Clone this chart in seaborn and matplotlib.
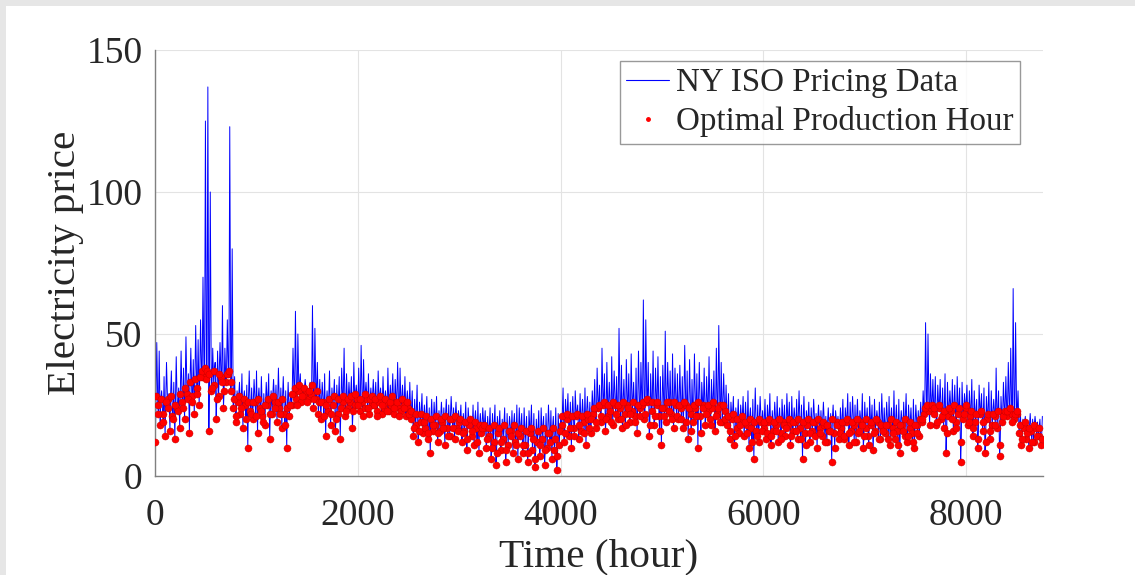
#%% import libraries
import numpy as np
import pandas as pd
import matplotlib
matplotlib.use('Agg')
import matplotlib.pyplot as plt
import seaborn as sns
from matplotlib.lines import Line2D
from matplotlib.patches import Rectangle

#%% data (one value per day of the year)
# daily peak price -> blue spikes
day_high = [
    47, 44, 30, 35, 40, 29, 37, 33, 42, 31,
    44, 38, 49, 36, 45, 41, 53, 48, 55,
    70, 125, 137, 100, 45, 40, 44, 47, 60, 45, 55,
    123, 80, 35, 30, 33, 36, 30, 32, 37, 31,
    34, 37, 31, 35, 29, 33, 36, 30, 34, 32,
    38, 31, 35, 30, 33, 29,
    45, 58, 50, 36,
    31, 34, 30, 33,
    60, 52, 40, 34,
    33, 36, 30, 37, 31, 34, 32, 35, 38, 45, 36, 33,
    35, 40, 32, 38, 46, 41, 33, 36, 31, 34,
    33, 37, 31, 35, 30, 38, 32, 36, 34, 40,
    38, 32, 35, 30, 33,
    30, 27, 32, 26, 29, 25, 28, 24, 27, 26,
    28, 23, 26, 24, 27, 25, 28, 24, 26, 23,
    25, 22, 26, 24, 21, 25, 23, 26, 22, 24,
    23, 21, 24, 22, 25, 21, 23, 20, 24, 22, 21, 23, 22, 25, 24,
    22, 24, 21, 23, 25, 22, 20, 23, 24, 21, 22, 25, 23, 21, 24, 22, 20,
    31, 27, 29, 26, 28, 30, 25, 29, 27, 31, 28, 26, 30,
    34, 38, 32, 45, 36, 40, 33, 42, 37, 35,
    52, 39, 34, 41, 36, 43, 33, 38, 44, 40,
    62, 55, 40, 36, 44, 38, 42, 35, 39, 51,
    40, 37, 43, 38, 36,
    39, 35, 46, 37, 41, 34, 43, 36, 40, 33,
    38, 35, 42, 34, 37, 45, 53, 40, 36, 32,
    29, 26, 28, 24, 27, 25, 28,
    26, 30, 24, 27, 31, 25, 28, 23,
    27, 25, 29, 23, 26, 28, 24, 27, 25, 29,
    26, 28, 24, 27, 30, 25, 28, 23, 26, 24,
    27, 22, 25, 23, 26, 21, 24, 22, 25, 23, 21, 24,
    27, 24, 29, 26, 28, 25, 27, 23,
    29, 26, 24, 28, 25, 27, 23, 26, 29, 24,
    26, 28, 24, 30, 25, 27, 23, 26, 29, 25, 24, 27, 25, 23, 26,
    30, 54, 50, 36, 34,
    35, 32, 34, 31, 36, 33, 30, 34, 32, 35, 31, 33, 29, 32, 30,
    34, 30, 27, 32, 29, 31, 28, 33, 30, 27,
    38, 30, 28, 33, 35,
    40, 45, 66, 54, 30,
    22, 20, 21, 19, 22, 20, 21, 19, 20, 21,
]

# first cheap hour of each day (red dots)
cheap_1 = [
    12, 25, 18, 22, 14, 27, 16, 21, 13, 24,
    17, 26, 20, 29, 15, 28, 22, 31, 25,
    35, 36, 34, 16, 30, 32, 20, 28, 35, 24, 33,
    36, 30, 24, 19, 26, 22, 17, 25, 10, 23,
    20, 26, 15, 24, 21, 18, 25, 13, 22, 26,
    19, 24, 17, 22, 10, 21,
    25, 29, 27, 30, 26, 28, 30, 27, 29, 24, 27, 22,
    20, 26, 14, 23, 18, 25, 16, 22, 13, 26, 21, 24,
    26, 17, 25, 27, 23, 26, 24, 27, 22, 25,
    25, 23, 26, 22, 24, 26, 23, 25, 22, 26, 24, 23, 25, 21, 24,
    20, 14, 18, 12, 19, 15, 17, 13, 8, 16,
    18, 12, 16, 19, 11, 17, 14, 20, 13, 17,
    19, 12, 16, 9, 18, 14, 11, 17, 8, 15,
    17, 10, 14, 6, 12, 4, 15, 9, 13, 5, 11, 16, 8, 12, 6,
    14, 8, 11, 5, 15, 9, 3, 12, 7, 13, 4, 10, 15, 6, 9, 2, 11,
    18, 12, 20, 14, 10, 17, 21, 13, 16, 19, 11, 20, 15,
    22, 17, 24, 19, 25, 16, 21, 23, 18, 25, 20, 24, 17, 22, 25, 19, 23, 21, 15, 24,
    25, 20, 26, 14, 23, 18, 25, 21, 11, 24, 19, 26, 22, 17, 25,
    20, 24, 17, 25, 13, 22, 19, 24, 10, 21, 25, 18, 23, 20, 24, 16, 22, 25, 19, 23,
    18, 13, 20, 11, 17, 15, 19,
    14, 18, 10, 17, 6, 16, 12, 19,
    17, 13, 19, 11, 16, 18, 12, 15, 19, 14,
    18, 11, 16, 19, 13, 17, 6, 15, 18, 12,
    16, 19, 10, 17, 14, 18, 12, 16, 5, 15, 19, 13,
    17, 13, 19, 11, 16, 18, 12, 15, 19, 10, 17, 14, 18, 9, 16, 19, 13, 17,
    15, 18, 11, 17, 13, 16, 8, 18, 14, 12, 17, 15, 10, 18, 14,
    19, 22, 24, 23, 24,
    22, 18, 24, 20, 17, 8, 21, 23, 16, 19, 22, 5, 20, 24, 18,
    21, 14, 19, 10, 22, 16, 8, 20, 13, 18, 21, 17, 7, 19, 22,
    21, 23, 22, 20, 22,
    15, 11, 17, 13, 10, 16, 12, 17, 14, 11,
]

# second cheap hour of each day (red dots)
cheap_2 = [
    28, 22, 27, 19, 26, 24, 28, 20, 25, 23,
    29, 24, 31, 27, 33, 26, 34, 29, 35,
    37, 38, 37, 36, 31, 37, 27, 36, 33, 30, 36,
    37, 33, 27, 21, 28, 24, 27, 20, 26, 22,
    26, 21, 27, 23, 19, 25, 27, 22, 28, 24,
    26, 22, 27, 18, 24, 25,
    29, 31, 25, 32, 28, 31, 26, 30, 32, 27, 30, 26,
    26, 21, 25, 27, 22, 28, 20, 27, 24, 28, 23, 27,
    28, 23, 29, 25, 27, 21, 29, 24, 27, 28,
    27, 21, 28, 25, 27, 23, 26, 28, 24, 26, 21, 27, 24, 26, 22,
    23, 17, 22, 16, 22, 19, 21, 15, 20, 18,
    21, 15, 20, 17, 21, 14, 20, 17, 21, 16,
    20, 15, 19, 13, 20, 16, 19, 12, 18, 17,
    18, 13, 17, 10, 18, 8, 17, 12, 18, 9, 16, 14, 18, 11, 15,
    17, 11, 16, 8, 17, 13, 6, 16, 11, 17, 9, 15, 12, 17, 13, 7, 16,
    21, 15, 22, 17, 21, 14, 22, 18, 21, 15, 22, 17, 20,
    24, 19, 25, 21, 26, 20, 25, 19, 26, 22, 25, 20, 26, 18, 24, 22, 26, 19, 25, 21,
    26, 22, 27, 18, 26, 21, 26, 16, 24, 21, 26, 23, 20, 26, 21,
    25, 20, 26, 19, 24, 16, 25, 21, 26, 15, 24, 22, 25, 18, 26, 21, 24, 19, 25, 20,
    21, 16, 22, 14, 20, 18, 21,
    19, 15, 20, 12, 19, 14, 20, 16,
    19, 15, 20, 14, 19, 16, 20, 13, 18, 17,
    20, 14, 19, 16, 20, 13, 19, 11, 20, 15,
    19, 14, 20, 15, 19, 12, 18, 16, 20, 10, 18, 15,
    19, 14, 20, 15, 19, 12, 20, 16, 18, 14, 20, 11, 19, 15, 20, 13, 18, 16,
    18, 13, 20, 15, 19, 11, 18, 16, 20, 14, 19, 12, 18, 15, 20,
    20, 24, 25, 18, 25,
    24, 19, 25, 21, 23, 15, 24, 20, 25, 17, 24, 12, 22, 25, 19,
    23, 17, 22, 13, 23, 19, 12, 22, 16, 22, 18, 23, 11, 21, 23,
    23, 24, 19, 22, 23,
    18, 13, 19, 15, 17, 12, 18, 14, 17, 13,
]
assert len(day_high) == len(cheap_1) == len(cheap_2) == 365

x_ticks = [0, 2000, 4000, 6000, 8000]
y_ticks = [0, 50, 100, 150]
line_label = 'NY ISO Pricing Data'
dot_label = 'Optimal Production Hour'

#%% build tables
days = np.arange(len(day_high))
hour_1 = days * 24 + 3
hour_2 = days * 24 + 9
hour_peak = days * 24 + 17

price_df = pd.DataFrame({
    'hour': np.concatenate([hour_1, hour_2, hour_peak]),
    'price': np.concatenate([cheap_1, cheap_2, day_high]),
}).sort_values('hour')
opt_df = pd.DataFrame({
    'hour': np.concatenate([hour_1, hour_2]),
    'price': np.concatenate([cheap_1, cheap_2]),
})

#%% plotting
sns.set_style('white')
plt.rcParams['font.family'] = ['Liberation Serif', 'DejaVu Serif']

fig = plt.figure(figsize=(11.35, 5.75), dpi=100, facecolor='#e6e6e6')
fig.add_artist(Rectangle((6 / 1135, 0), 1, 1 - 6 / 575, transform=fig.transFigure,
                         facecolor='white', edgecolor='none', zorder=-1))
ax = fig.add_axes([0.1366, 0.1722, 0.7824, 0.7408])

sns.lineplot(data=price_df, x='hour', y='price', color='#0000ff', lw=0.7,
             estimator=None, sort=False, ax=ax, zorder=2)
sns.scatterplot(data=opt_df, x='hour', y='price', color='#ff0000', s=26,
                edgecolor='#c00000', linewidth=0.3, ax=ax, zorder=3)

ax.set_xlim(0, 8760)
ax.set_ylim(0, 150)
ax.set_xticks(x_ticks)
ax.set_yticks(y_ticks)
ax.grid(True, color='#e3e3e3', lw=0.8)
ax.set_axisbelow(True)
for side in ['top', 'right']:
    ax.spines[side].set_visible(False)
for side in ['left', 'bottom']:
    ax.spines[side].set_color('#808080')
    ax.spines[side].set_linewidth(1.0)
ax.tick_params(direction='in', length=7, width=1.0, color='#808080',
               labelsize=27, labelcolor='#262626')
ax.tick_params(axis='x', pad=16)
ax.tick_params(axis='y', pad=9)
ax.set_xlabel('Time (hour)', fontsize=29.7, color='#262626', labelpad=4)
ax.set_ylabel('Electricity price', fontsize=29.7, color='#262626', labelpad=2)

handles = [
    Line2D([], [], color='#0000ff', lw=0.8),
    Line2D([], [], color='#ff0000', marker='o', ms=2.5, lw=0),
]
leg = ax.legend(handles, [line_label, dot_label], loc='upper right',
                bbox_to_anchor=(0.974, 0.974), borderaxespad=0, fontsize=23.8,
                frameon=True, fancybox=False, edgecolor='#808080',
                handlelength=1.3, handletextpad=0.2, labelspacing=0.25,
                borderpad=0.2)
leg.get_frame().set_linewidth(1.0)

plt.savefig('out.png', dpi=100)
